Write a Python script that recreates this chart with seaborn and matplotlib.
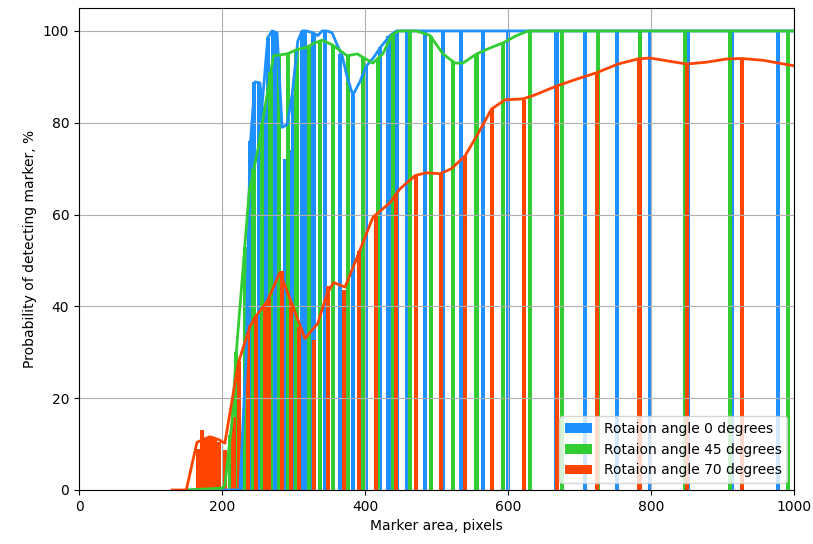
import matplotlib
matplotlib.use("Agg")
import matplotlib.pyplot as plt
import seaborn as sns
import pandas as pd

labels = ['Rotaion angle 0 degrees', 'Rotaion angle 45 degrees', 'Rotaion angle 70 degrees']
colors = ['#1e90ff', '#32cd32', '#ff4500']

# bars: marker area and detection rate
blue_bar_x = [228, 240, 245, 252, 258, 264, 271, 276, 288, 293, 300, 312, 316, 328, 344, 365,
              383, 401, 421, 433, 444, 459, 484, 509, 534, 565, 600, 668, 708, 752, 799, 852,
              913, 978]
blue_bar_y = [8, 76, 88.9, 88.7, 83.7, 98.5, 100, 99.6, 72, 74, 86, 100, 100, 99.6, 100, 95,
              86, 92.4, 96.5, 99, 100, 100, 100, 100, 100, 100, 100, 100, 100, 100, 100, 100,
              100, 100]

green_bar_x = [212, 220, 232, 244, 256, 268, 280, 292, 304, 322, 337, 355, 376, 398, 418, 439,
               463, 492, 523, 556, 593, 631, 676, 726, 785, 848, 911, 992]
green_bar_y = [12, 30, 53, 70, 80, 91, 95, 95, 96, 96.5, 97.8, 97, 94.6, 94, 94, 99,
               100, 99, 93.5, 95, 97.4, 100, 100, 100, 100, 100, 100, 100]

orange_bar_x = [166, 172, 178, 184, 190, 196, 204, 216, 224, 236, 248, 260, 266, 284, 296, 308,
                329, 348, 371, 392, 415, 443, 471, 506, 540, 578, 622, 669, 724, 784, 850, 927]
orange_bar_y = [9, 13, 11, 11.5, 11, 10.5, 8.7, 16, 28, 36, 38, 40.5, 41.5, 47.8, 41, 35.5,
                32.6, 44.5, 43.5, 52, 60, 64.5, 68.5, 69, 72.8, 83, 85, 88, 91, 94, 93, 94]

# lines
blue_line_x = [150, 205, 225, 234, 239, 246, 253, 256, 264, 270, 277, 284, 291, 298, 306, 312,
               318, 327, 334, 340, 347, 354, 361, 368, 375, 383, 393, 402, 411, 423, 435, 444, 1000]
blue_line_y = [0, 0, 0, 30, 74, 88.9, 88.7, 83.7, 98.5, 100, 99.6, 79, 79.6, 86, 97.8, 100,
               100, 99.6, 99, 100, 100, 99.6, 97, 94.6, 90, 86, 89, 92.4, 94, 96.7, 99, 100, 100]

green_line_x = [150, 200, 204, 214, 220, 238, 250, 264, 272, 291, 306, 318, 327, 340, 354, 375,
                389, 400, 411, 425, 437, 447, 472, 491, 509, 526, 537, 556, 575, 593, 612, 628, 1000]
green_line_y = [0, 0.4, 1, 15, 30, 65, 74, 87, 94.6, 95, 96, 96.4, 97.2, 98, 97, 94.6,
                95, 94, 93, 95, 99, 100, 100, 99, 95, 93, 93, 95, 96.3, 97.4, 99, 100, 100]

orange_line_x = [130, 150, 165, 183, 195, 204, 223, 239, 246, 263, 281, 300, 316, 334, 347, 356,
                 372, 389, 411, 435, 449, 470, 486, 505, 521, 540, 558, 577, 596, 621, 635, 668,
                 696, 724, 754, 782, 799, 822, 850, 878, 906, 927, 957, 1000]
orange_line_y = [0, 0, 10.4, 11.6, 11, 10.2, 27.8, 35.5, 37.6, 41, 47.4, 39.6, 33, 36.3, 42.8, 45.2,
                 44.2, 50.7, 59.4, 62.6, 65.6, 68.5, 69.1, 68.9, 70, 72.8, 77.6, 83, 85, 85.2, 85.9, 88,
                 89.5, 90.9, 92.8, 93.9, 94.1, 93.5, 92.8, 93.2, 93.9, 94, 93.6, 92.4]

bars = [(blue_bar_x, blue_bar_y), (green_bar_x, green_bar_y), (orange_bar_x, orange_bar_y)]
lines = [(blue_line_x, blue_line_y), (green_line_x, green_line_y), (orange_line_x, orange_line_y)]

fig, ax = plt.subplots(figsize=(8.13, 5.44), dpi=100)
fig.subplots_adjust(left=0.0972, right=0.9766, top=0.9853, bottom=0.0993)

for (bx, by), c, lab in zip(bars, colors, labels):
    ax.bar(bx, by, width=6, color=c, label=lab)

for (lx, ly), c in zip(lines, colors):
    df = pd.DataFrame({'x': lx, 'y': ly})
    sns.lineplot(data=df, x='x', y='y', color=c, linewidth=2, estimator=None, ax=ax)

ax.set_xlim(0, 1000)
ax.set_ylim(0, 105)
ax.grid(True, color='#b0b0b0', linewidth=0.8)
ax.set_axisbelow('line')
ax.set_xlabel('Marker area, pixels')
ax.set_ylabel('Probability of detecting marker, %')
ax.legend(loc='lower right')

fig.savefig('out.png', dpi=100)
